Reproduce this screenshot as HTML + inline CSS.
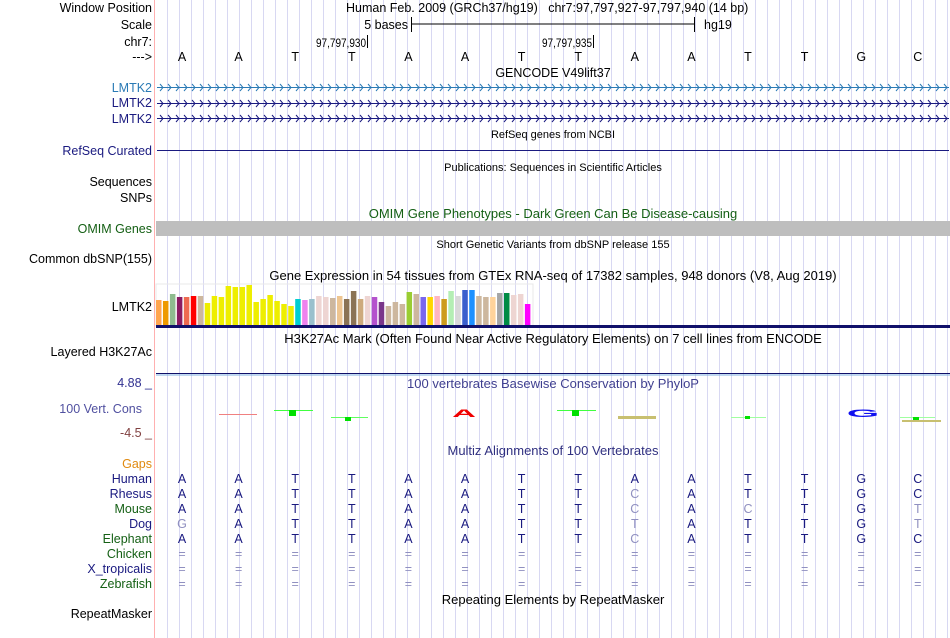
<!DOCTYPE html>
<html><head><meta charset="utf-8"><style>
body{margin:0;background:#fff;}
svg{display:block;font-family:"Liberation Sans",sans-serif;}
</style></head><body>
<svg id="s" width="950" height="638" viewBox="0 0 950 638">
<g id="grid"></g>
<line x1="154.5" y1="0" x2="154.5" y2="638" stroke="#ffb0b0" stroke-width="1"/>
<g font-size="12.5" text-anchor="end" fill="#000">
<text x="152" y="12">Window Position</text>
<text x="152" y="29">Scale</text>
<text x="152" y="46">chr7:</text>
<text x="152" y="61">---&gt;</text>
<text x="152" y="92" fill="#2a7ab5">LMTK2</text>
<text x="152" y="107" fill="#1a1a80">LMTK2</text>
<text x="152" y="123" fill="#1a1a80">LMTK2</text>
<text x="152" y="155" fill="#1a1a80">RefSeq Curated</text>
<text x="152" y="186">Sequences</text>
<text x="152" y="202">SNPs</text>
<text x="152" y="233" fill="#156015">OMIM Genes</text>
<text x="152" y="263">Common dbSNP(155)</text>
<text x="152" y="311">LMTK2</text>
<text x="152" y="356">Layered H3K27Ac</text>
<text x="152" y="387" fill="#303090">4.88 _</text>
<text x="142" y="413" fill="#5050a0">100 Vert. Cons</text>
<text x="152" y="437" fill="#804040">-4.5 _</text>
<text x="152" y="468" fill="#e08a10">Gaps</text>
<text x="152" y="483" fill="#1a1a80">Human</text>
<text x="152" y="498" fill="#1a1a80">Rhesus</text>
<text x="152" y="513" fill="#156015">Mouse</text>
<text x="152" y="528" fill="#1a1a80">Dog</text>
<text x="152" y="543" fill="#156015">Elephant</text>
<text x="152" y="558" fill="#156015">Chicken</text>
<text x="152" y="573" fill="#1a1a80">X_tropicalis</text>
<text x="152" y="588" fill="#156015">Zebrafish</text>
<text x="152" y="618">RepeatMasker</text>
</g>
<g font-size="12.5" fill="#000">
<text x="346" y="12">Human Feb. 2009 (GRCh37/hg19)&#160;&#160;&#160;chr7:97,797,927-97,797,940 (14 bp)</text>
<text x="408" y="29" text-anchor="end">5 bases</text>
<line x1="411" y1="24" x2="695" y2="24" stroke="#000"/>
<line x1="411.5" y1="17" x2="411.5" y2="32" stroke="#000"/>
<line x1="694.5" y1="17" x2="694.5" y2="32" stroke="#000"/>
<text x="704" y="29">hg19</text>
<text x="316" y="47" font-size="12" textLength="50" lengthAdjust="spacingAndGlyphs">97,797,930</text>
<line x1="367.5" y1="35" x2="367.5" y2="48" stroke="#000"/>
<text x="542" y="47" font-size="12" textLength="50" lengthAdjust="spacingAndGlyphs">97,797,935</text>
<line x1="593.5" y1="35" x2="593.5" y2="48" stroke="#000"/>
</g>
<g id="bases" font-size="12.5" text-anchor="middle"></g>
<g font-size="13" text-anchor="middle">
<text x="553" y="77" font-size="12.5">GENCODE V49lift37</text>
<text x="553" y="138" font-size="11">RefSeq genes from NCBI</text>
<text x="553" y="171" font-size="11">Publications: Sequences in Scientific Articles</text>
<text x="553" y="218" fill="#156015">OMIM Gene Phenotypes - Dark Green Can Be Disease-causing</text>
<text x="553" y="248" font-size="11">Short Genetic Variants from dbSNP release 155</text>
<text x="553" y="280">Gene Expression in 54 tissues from GTEx RNA-seq of 17382 samples, 948 donors (V8, Aug 2019)</text>
<text x="553" y="343">H3K27Ac Mark (Often Found Near Active Regulatory Elements) on 7 cell lines from ENCODE</text>
<text x="553" y="388" fill="#404090">100 vertebrates Basewise Conservation by PhyloP</text>
<text x="553" y="455" fill="#303080">Multiz Alignments of 100 Vertebrates</text>
<text x="553" y="604">Repeating Elements by RepeatMasker</text>
</g>
<g id="genes"></g>
<line x1="157" y1="150.5" x2="949" y2="150.5" stroke="#1a1a80"/>
<rect x="156" y="221" width="794" height="15" fill="#bebebe"/>
<rect x="156" y="284" width="377" height="42" fill="none" stroke="#e8e8e8"/>
<g id="gtex"></g>
<rect x="156" y="325" width="794" height="3" fill="#10106a"/>
<line x1="156" y1="373.5" x2="950" y2="373.5" stroke="#10106a"/>
<line x1="156" y1="375" x2="950" y2="375" stroke="#80b0e0"/>
<g>
<line x1="219" y1="414.5" x2="257" y2="414.5" stroke="#f08080"/>
<line x1="274" y1="410.5" x2="313" y2="410.5" stroke="#40ff40"/>
<rect x="289" y="410" width="7" height="6" fill="#00e000"/>
<line x1="331" y1="417.5" x2="368" y2="417.5" stroke="#60ff60"/>
<rect x="345" y="417" width="6" height="4" fill="#00e000"/>
<text x="464" y="417" text-anchor="middle" font-size="22" font-weight="bold" fill="#f00000" transform="translate(464 417) scale(1.5 0.5) translate(-464 -417)">A</text>
<line x1="557" y1="410.5" x2="596" y2="410.5" stroke="#40ff40"/>
<rect x="572" y="410" width="7" height="6" fill="#00e000"/>
<rect x="618" y="416" width="38" height="3" fill="#c8c070"/>
<line x1="731" y1="417.5" x2="766" y2="417.5" stroke="#a0ffa0"/>
<rect x="745" y="416" width="5" height="3" fill="#00e000"/>
<text x="863" y="417" text-anchor="middle" font-size="22" font-weight="bold" fill="#1010f0" transform="translate(863 417) scale(1.9 0.5) translate(-863 -417)">G</text>
<line x1="900" y1="417.5" x2="935" y2="417.5" stroke="#a0ffa0"/>
<rect x="913" y="417" width="6" height="4" fill="#00e000"/>
<rect x="902" y="420" width="39" height="2" fill="#c8c070"/>
</g>
<g id="align" font-size="12.5" text-anchor="middle"></g>
</svg>
<script>
const categories=["Adipose Subcutaneous","Adipose Visceral","Adrenal Gland","Artery Aorta","Artery Coronary","Artery Tibial","Bladder","Brain Amygdala","Brain ACC","Brain Caudate","Brain Cerebellar Hemisphere","Brain Cerebellum","Brain Cortex","Brain Frontal Cortex","Brain Hippocampus","Brain Hypothalamus","Brain Nucleus Accumbens","Brain Putamen","Brain Spinal Cord","Brain Substantia Nigra","Breast","EBV Lymphocytes","Fibroblasts","Cervix Ectocervix","Cervix Endocervix","Colon Sigmoid","Colon Transverse","Esophagus GJ","Esophagus Mucosa","Esophagus Muscularis","Fallopian Tube","Heart Atrial","Heart Ventricle","Kidney Cortex","Kidney Medulla","Liver","Lung","Minor Salivary","Muscle","Nerve Tibial","Ovary","Pancreas","Pituitary","Prostate","Skin Not Exposed","Skin Exposed","Small Intestine","Spleen","Stomach","Testis","Thyroid","Uterus","Vagina","Whole Blood"];
const expression=[25,24,31,28,28,29,29,22,29,28,39,38,38,40,23,26,30,24,21,19,26,25,26,29,28,27,29,26,34,26,29,28,23,19,23,21,33,31,28,28,29,26,34,29,35,35,29,28,28,32,32,30,31,21];
const tissueColors=["#FFA54F","#EE9A00","#8FBC8F","#8B1C62","#EE6A50","#FF0000","#CDB79E","#EEEE00","#EEEE00","#EEEE00","#EEEE00","#EEEE00","#EEEE00","#EEEE00","#EEEE00","#EEEE00","#EEEE00","#EEEE00","#EEEE00","#EEEE00","#00CED1","#EE82EE","#9AC0CD","#EED5D2","#EED5D2","#CDB79E","#EEC591","#8B7355","#8B7355","#CDAA7D","#EED5D2","#B452CD","#7A378B","#CDB79E","#CDB79E","#CDB79E","#9ACD32","#CDB79E","#7A67EE","#FFD700","#FFB6C1","#CD9B1D","#B4EEB4","#D9D9D9","#3A5FCD","#1E90FF","#CDB79E","#CDB79E","#FFD39B","#A6A6A6","#008B45","#EED5D2","#EED5D2","#FF00FF"];
const bases=["A","A","T","T","A","A","T","T","A","A","T","T","G","C"];
const species=["Human","Rhesus","Mouse","Dog","Elephant","Chicken","X_tropicalis","Zebrafish"];
const alignRows=["AATTAATTAATTGC","AATTAATTcATTGC","AATTAATTcAcTGt","gATTAATTtATTGt","AATTAATTcATTGC","==============","==============","=============="];
const NS="http://www.w3.org/2000/svg";
function mk(tag,attrs,parent){const e=document.createElementNS(NS,tag);for(const k in attrs)e.setAttribute(k,attrs[k]);parent.appendChild(e);return e;}
const xBase=i=>182+i*56.6;
const xBar=i=>156+i*6.96;
const yBar=v=>325-v;
const grid=document.getElementById('grid');
for(let x=167;x<950;x+=12){const l=mk('line',{x1:x+0.5,y1:0,x2:x+0.5,y2:638,stroke:'#d8d8f2'},grid);

}
const bg=document.getElementById('bases');
bases.forEach((b,i)=>{const t=mk('text',{x:xBase(i),y:61},bg);t.textContent=b;

});
const gg=document.getElementById('genes');
[[87,'#2a7ab5'],[103,'#1a1a80'],[118,'#1a1a80']].forEach(([y,c],r)=>{
const l=mk('line',{x1:157,y1:y+0.5,x2:949,y2:y+0.5,stroke:c},gg);


let d='';for(let x=160;x<948;x+=8){d+=`M${x},${y-3}L${x+3},${y+0.5}L${x},${y+4}`;}
mk('path',{d:d,stroke:c,fill:'none','stroke-width':1},gg);});
const gt=document.getElementById('gtex');
expression.forEach((v,i)=>{const r=mk('rect',{x:xBar(i),y:yBar(v),width:5.5,height:v,fill:tissueColors[i]},gt);

});
const al=document.getElementById('align');
alignRows.forEach((row,r)=>{[...row].forEach((ch,i)=>{
const lower=ch!==ch.toUpperCase()||ch==='=';
const t=mk('text',{x:xBase(i),y:483+r*15,fill:lower?'#9090c0':'#1a1a80'},al);
t.textContent=ch==='='?'=':ch.toUpperCase();

});});
</script>
</body></html>
